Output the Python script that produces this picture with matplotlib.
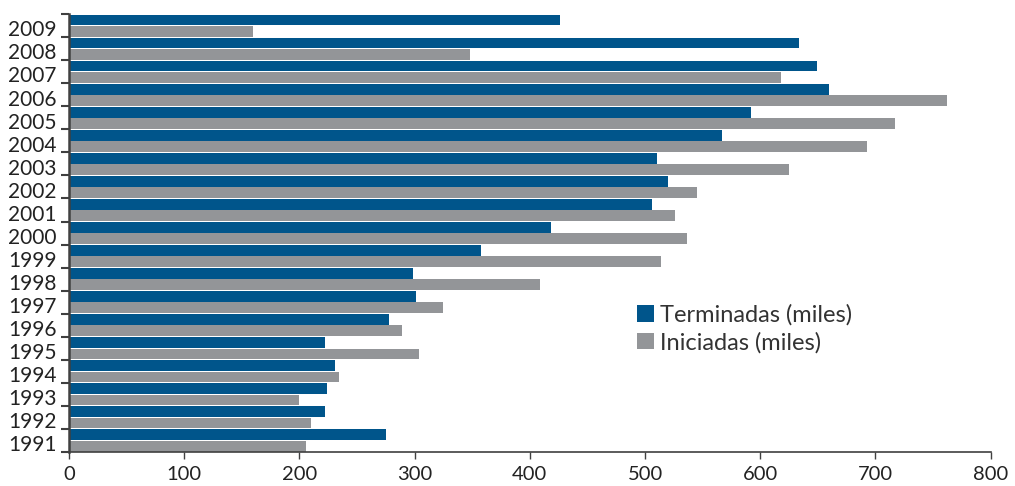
import numpy as np
import matplotlib
matplotlib.use("Agg")
import matplotlib.pyplot as plt
import matplotlib.transforms as mtransforms

# data (thousands of dwellings)
years = [1991, 1992, 1993, 1994, 1995, 1996, 1997, 1998, 1999, 2000,
         2001, 2002, 2003, 2004, 2005, 2006, 2007, 2008, 2009]
terminadas = [275, 222, 224, 231, 222, 278, 301, 299, 358, 418,
              506, 520, 510, 567, 592, 660, 649, 634, 426]
iniciadas = [206, 210, 200, 234, 304, 289, 325, 409, 514, 536,
             526, 545, 625, 693, 717, 762, 618, 348, 160]

BLUE = "#00558b"
GRAY = "#939598"
AXIS = "#404040"

plt.rcParams["font.family"] = ["Lato", "DejaVu Sans"]

fig = plt.figure(figsize=(10.15, 4.86), dpi=100)
ax = fig.add_axes([0.068, 0.07, 0.908, 0.901])

y = np.arange(len(years))
h = 0.47
ax.barh(y + h / 2 + 0.01, terminadas, height=h, color=BLUE, label="Terminadas (miles)")
ax.barh(y - h / 2 - 0.01, iniciadas, height=h, color=GRAY, label="Iniciadas (miles)")

ax.set_xlim(0, 800)
ax.set_ylim(-0.5, len(years) - 0.5)
ax.set_xticks(np.arange(0, 801, 100))
ax.tick_params(axis="x", labelsize=14.5, length=5, width=1, color=AXIS, labelcolor="#222222", pad=5)

# category labels at group centres, tick marks at group boundaries
ax.set_yticks(y)
ax.set_yticklabels([str(v) for v in years])
ax.set_yticks(np.arange(-0.5, len(years), 1), minor=True)
ax.tick_params(axis="y", which="major", length=0, labelsize=15, labelcolor="#222222", pad=9)
ax.tick_params(axis="y", which="minor", length=6, width=1.5, color=AXIS)
shift = mtransforms.ScaledTranslation(0, -2 / 72, fig.dpi_scale_trans)
for lbl in ax.get_yticklabels():
    lbl.set_transform(lbl.get_transform() + shift)

for side in ["top", "right"]:
    ax.spines[side].set_visible(False)
ax.spines["left"].set_color(AXIS)
ax.spines["left"].set_linewidth(1.8)
ax.spines["bottom"].set_color(AXIS)
ax.spines["bottom"].set_linewidth(1.2)

ax.legend(loc="center left", bbox_to_anchor=(0.616, 0.281), frameon=False, fontsize=17,
          borderpad=0, borderaxespad=0,
          handlelength=0.75, handleheight=0.7, handletextpad=0.25, labelspacing=0.25,
          labelcolor="#333333")

fig.savefig("out.png", dpi=100)
